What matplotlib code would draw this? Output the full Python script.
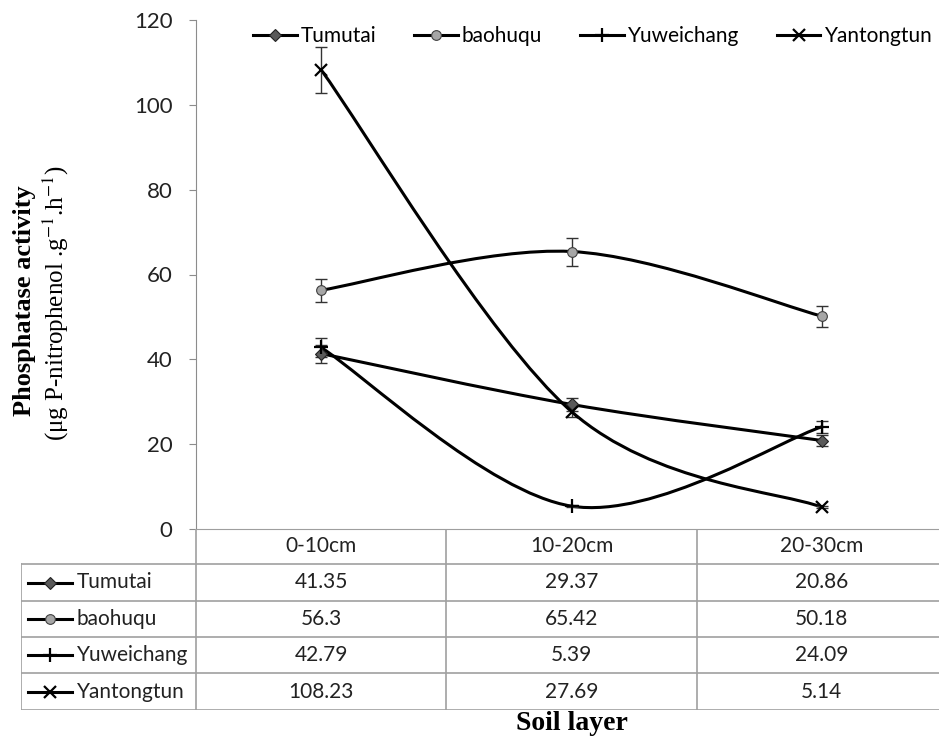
import numpy as np
import matplotlib.pyplot as plt
from matplotlib.path import Path
from matplotlib.patches import PathPatch
from matplotlib.lines import Line2D

plt.rcParams['font.family'] = ['Lato', 'DejaVu Sans']
plt.rcParams['mathtext.fontset'] = 'stix'

layers = ["0-10cm", "10-20cm", "20-30cm"]
sites = ["Tumutai", "baohuqu", "Yuweichang", "Yantongtun"]
tumutai = [41.35, 29.37, 20.86]
baohuqu = [56.3, 65.42, 50.18]
yuweichang = [42.79, 5.39, 24.09]
yantongtun = [108.23, 27.69, 5.14]
tumutai_err = [2.1, 1.5, 1.2]
baohuqu_err = [2.7, 3.3, 2.5]
yuweichang_err = [2.2, 0.3, 1.4]
yantongtun_err = [5.5, 1.4, 0.3]
yticks = [0, 20, 40, 60, 80, 100, 120]

values = [tumutai, baohuqu, yuweichang, yantongtun]
errors = [tumutai_err, baohuqu_err, yuweichang_err, yantongtun_err]
styles = [
    dict(marker='D', ms=6.5, mfc='#5a5a5a', mec='#222222', mew=0.8),
    dict(marker='o', ms=7, mfc='#a6a6a6', mec='#404040', mew=0.8),
    dict(marker='+', ms=10, mfc='black', mec='black', mew=1.6),
    dict(marker='x', ms=9, mfc='black', mec='black', mew=1.6),
]
FS = 15


def smooth_path(x, y):
    # cubic bezier through the points, like Excel's smoothed line
    px = [x[0]] + list(x) + [x[-1]]
    py = [y[0]] + list(y) + [y[-1]]
    verts = [(x[0], y[0])]
    codes = [Path.MOVETO]
    for i in range(1, len(px) - 2):
        c1 = (px[i] + (px[i + 1] - px[i - 1]) / 6, py[i] + (py[i + 1] - py[i - 1]) / 6)
        c2 = (px[i + 1] - (px[i + 2] - px[i]) / 6, py[i + 1] - (py[i + 2] - py[i]) / 6)
        verts += [c1, c2, (px[i + 1], py[i + 1])]
        codes += [Path.CURVE4] * 3
    return Path(verts, codes)


W, H = 939, 739
fig = plt.figure(figsize=(W / 100, H / 100), dpi=100)

ax_l, ax_r, ax_t, ax_b = 196, 947, 20, 529
ax = fig.add_axes([ax_l / W, (H - ax_b) / H, (ax_r - ax_l) / W, (ax_b - ax_t) / H])
x = np.arange(len(layers))

for vals, errs, st in zip(values, errors, styles):
    ax.add_patch(PathPatch(smooth_path(x, vals), fc='none', ec='black', lw=2.2, zorder=2))
    ax.errorbar(x, vals, yerr=errs, fmt='none', ecolor='#333333', elinewidth=1.0,
                capsize=4, capthick=1.0, zorder=3)
    ax.plot(x, vals, ls='none', zorder=4, **st)

ax.set_xlim(-0.5, 2.5)
ax.set_ylim(0, 120)
ax.set_yticks(yticks)
ax.tick_params(axis='y', labelsize=FS + 1, length=5, color='#8c8c8c', colors='#222222', pad=12)
ax.tick_params(axis='x', bottom=False, labelbottom=False)
for s in ['top', 'right']:
    ax.spines[s].set_visible(False)
ax.spines['left'].set_color('#8c8c8c')
ax.spines['bottom'].set_color('#9a9a9a')

handles = [Line2D([], [], color='black', lw=2.2, **st) for st in styles]
ax.legend(handles, sites, ncol=4, loc='center left', bbox_to_anchor=(57 / 751, 1 - 16 / 509),
          frameon=False, fontsize=FS, handlelength=2.1, handletextpad=0.2,
          columnspacing=1.8, borderaxespad=0, borderpad=0)

# data table under the plot
tb_l, tb_t, tb_b = 21, 529, 710
tax = fig.add_axes([tb_l / W, (H - tb_b) / H, (ax_r - tb_l) / W, (tb_b - tb_t) / H])
leg_w = (ax_l - tb_l) / (ax_r - ax_l) * 3
tax.set_xlim(-0.5 - leg_w, 2.5)
tax.set_ylim(tb_b - tb_t, 0)
tax.axis('off')
grid_c = '#a0a0a0'
rows_y = [0, 35, 72, 108, 144, 181]
left = -0.5 - leg_w
tax.plot([-0.5, 2.5], [rows_y[0]] * 2, color=grid_c, lw=1.2)
for yy in rows_y[1:]:
    tax.plot([left, 2.5], [yy, yy], color=grid_c, lw=1.2)
tax.plot([left, left], [rows_y[1], rows_y[-1]], color=grid_c, lw=1.2)
for xx in [-0.5, 0.5, 1.5]:
    tax.plot([xx, xx], [rows_y[0], rows_y[-1]], color=grid_c, lw=1.2)

for j, lab in enumerate(layers):
    tax.text(j, (rows_y[0] + rows_y[1]) / 2, lab, ha='center', va='center',
             fontsize=FS, color='#222222')
px = 1 / (ax_r - ax_l) * 3
for i, (site, vals, st) in enumerate(zip(sites, values, styles)):
    yc = (rows_y[i + 1] + rows_y[i + 2]) / 2
    tax.plot([left + 7 * px, left + 51 * px], [yc, yc], color='black', lw=2.2)
    tax.plot([left + 29 * px], [yc], ls='none', **st)
    tax.text(left + 56 * px, yc, site, ha='left', va='center', fontsize=FS, color='#222222')
    for j, v in enumerate(vals):
        tax.text(j, yc, f"{v:g}", ha='center', va='center', fontsize=FS, color='#222222')

fig.text(25 / W, 1 - 301 / H, "Phosphatase activity", rotation=90, ha='center', va='center',
         fontsize=19, fontweight='bold', family='Liberation Serif')
fig.text(56 / W, 1 - 303 / H, r"(μg P-nitrophenol .g$^{-1}$.h$^{-1}$)", rotation=90,
         ha='center', va='center', fontsize=18, family='Liberation Serif')
fig.text(572 / W, 1 - 724 / H, "Soil layer", ha='center', va='center',
         fontsize=20, fontweight='bold', family='Liberation Serif')

fig.savefig("out.png", dpi=100)
